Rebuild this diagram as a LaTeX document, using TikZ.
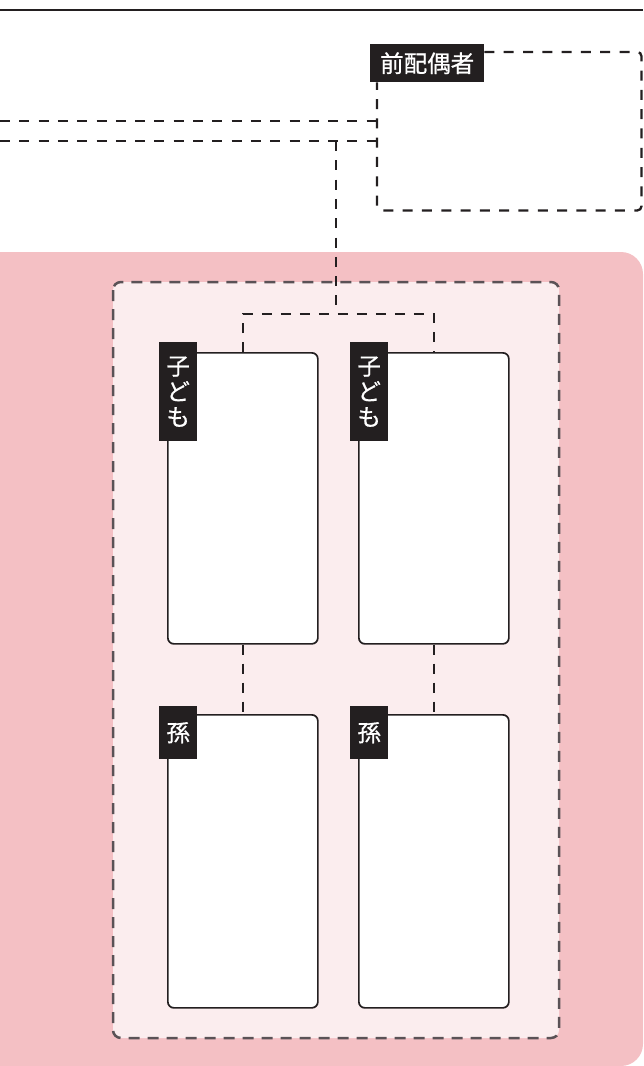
\documentclass[tikz,border=0pt]{standalone}
\usepackage{fontspec}
\newfontfamily\jp[FakeBold=0.7]{Noto Sans CJK JP}
\definecolor{ink}{HTML}{231F20}
\definecolor{pinkout}{HTML}{F4C0C4}
\definecolor{pinkin}{HTML}{FBEDEE}
\definecolor{dashgray}{HTML}{5A5256}
\begin{document}
\begin{tikzpicture}[x=1pt,y=-1pt,
  toplink/.style={draw=ink, line width=2.3pt, dash pattern=on 10pt off 9.3pt},
  link/.style={draw=ink, line width=1.8pt, dash pattern=on 10pt off 9pt},
  person/.style={draw=ink, line width=1.7pt, fill=white, rounded corners=6pt,
    minimum width=150pt, inner sep=0pt, anchor=north west},
  tag/.style={fill=ink, text=white, inner sep=0pt, anchor=north west,
    font=\jp\fontsize{23.5}{25.5}\selectfont, align=center},
  frame/.style={draw=dashgray, line width=2.5pt, dash pattern=on 11pt off 8pt,
    fill=pinkin, rounded corners=8pt}]
\useasboundingbox (0,0) rectangle (643,1066);

% background band
\begin{scope}
  \clip (0,0) rectangle (643,1066);
  \fill[pinkout, rounded corners=22pt] (-40,252) rectangle (643,1066);
\end{scope}

% rule across the top
\draw[ink, line width=2.4pt] (0,10) -- (643,10);

% group frame
\draw[frame] (113,282) rectangle (559,1038);

% former spouse
\node[minimum width=264pt, minimum height=158pt, inner sep=0pt, anchor=north west]
  (ex) at (377,52) {};
\node[tag, minimum width=114pt, minimum height=38pt] (exlab) at (370,44) {前配偶者};
\draw[toplink, rounded corners=4pt]
  (exlab.east |- ex.north) -- (ex.north east) -- (ex.south east)
  -- (ex.south west) -- (exlab.south -| ex.west);

% lines coming in from the left
\coordinate (la) at (0,121);
\coordinate (lb) at (0,141);
\coordinate (drop) at (336,141);
\draw[toplink] (la) -- (la -| ex.west);
\draw[toplink] (lb) -- (lb -| ex.west);

% children
\node[person, minimum height=291pt] (c1) at (167,352) {};
\node[person, minimum height=291pt] (c2) at (358,352) {};
\node[tag, minimum width=38pt, minimum height=99pt] (c1lab) at (159,342) {子\\ど\\も};
\node[tag, minimum width=38pt, minimum height=99pt] (c2lab) at (350,342) {子\\ど\\も};

% grandchildren
\node[person, minimum height=293pt] (g1) at (167,714) {};
\node[person, minimum height=293pt] (g2) at (358,714) {};
\node[tag, minimum width=38pt, minimum height=53pt] (g1lab) at (159,706) {孫};
\node[tag, minimum width=38pt, minimum height=53pt] (g2lab) at (350,706) {孫};

% descent lines
\coordinate (fork) at (336,314);
\draw[toplink] (drop) -- (fork);
\draw[link] (c1.north) -- (c1.north |- fork) -- (c2.north |- fork) -- (c2.north);
\draw[link] (c1.south) -- (g1.north);
\draw[link] (c2.south) -- (g2.north);
\end{tikzpicture}
\end{document}
